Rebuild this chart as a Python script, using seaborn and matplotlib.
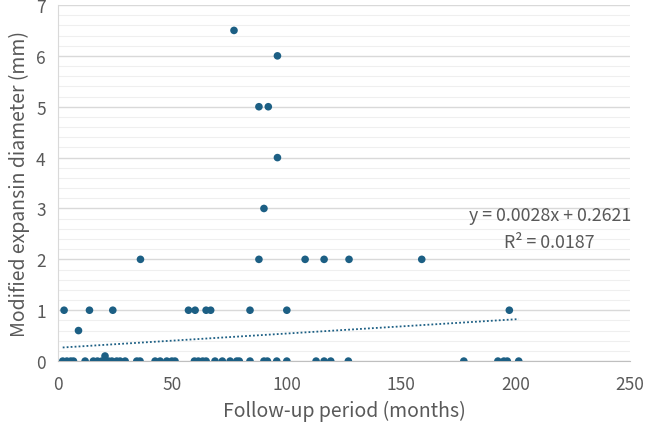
import numpy as np
import pandas as pd
import matplotlib
matplotlib.use("Agg")
import matplotlib.pyplot as plt
import seaborn as sns
from matplotlib.ticker import MultipleLocator

# follow-up period (months) and modified expansin diameter (mm)
x_zero = [2.0, 3.8, 5.5, 6.7, 11.8, 15.4, 17.2, 19.1, 22.0, 23.5, 25.6, 27.1, 29.3,
          34.4, 35.8, 42.4, 44.6, 47.5, 49.7, 51.1, 59.6, 61.3, 63.2, 64.7, 68.6,
          71.8, 75.2, 78.1, 79.2, 83.9, 90.0, 91.5, 95.6, 100.0, 112.8, 116.3,
          119.2, 126.9, 177.4, 192.3, 194.9, 196.4, 201.4]
x_small = [20.5, 8.9]
y_small = [0.1, 0.6]
x_one = [2.6, 13.7, 23.9, 57.0, 59.9, 64.7, 66.7, 83.9, 100.0, 197.3]
x_two = [36.0, 87.8, 108.0, 116.3, 127.2, 159.0]
x_high = [90.0, 95.9, 87.8, 91.9, 95.9, 76.9]
y_high = [3.0, 4.0, 5.0, 5.0, 6.0, 6.5]

slope, intercept, r2 = 0.0028, 0.2621, 0.0187

months = x_zero + x_small + x_one + x_two + x_high
diam = [0.0] * len(x_zero) + y_small + [1.0] * len(x_one) + [2.0] * len(x_two) + y_high
df = pd.DataFrame({"months": months, "diameter": diam})

sns.set_style("white")
plt.rcParams["font.family"] = ["Noto Sans CJK JP", "DejaVu Sans"]
text_col = "#595959"
dot_col = "#1c5f84"

fig = plt.figure(figsize=(6.46, 4.27), dpi=100)
ax = fig.add_axes([0.09, 0.152, 0.885, 0.834])

ax.yaxis.set_minor_locator(MultipleLocator(0.2))
ax.grid(True, which="minor", axis="y", color="#efefef", lw=0.8)
ax.grid(True, which="major", axis="y", color="#d9d9d9", lw=1.0)
ax.set_axisbelow(True)

sns.scatterplot(data=df, x="months", y="diameter", color=dot_col, s=30,
                edgecolor="none", ax=ax, zorder=3)

trend = pd.DataFrame({"months": [df["months"].min(), df["months"].max()]})
trend["fit"] = slope * trend["months"] + intercept
sns.lineplot(data=trend, x="months", y="fit", color=dot_col, lw=1.3,
             linestyle=(0, (1, 1.2)), ax=ax, zorder=2)

ax.set_xlim(0, 250)
ax.set_ylim(0, 7)
ax.set_xticks(np.arange(0, 251, 50))
ax.set_yticks(np.arange(0, 8, 1))
ax.tick_params(axis="y", which="major", length=4, color="#d9d9d9", labelsize=12.5,
               colors=text_col, pad=5)
ax.tick_params(axis="y", which="minor", length=0)
ax.tick_params(axis="x", length=4, color="#bfbfbf", labelsize=12.5, colors=text_col, pad=6)

for s in ["top", "right"]:
    ax.spines[s].set_visible(False)
ax.spines["left"].set_color("#d9d9d9")
ax.spines["bottom"].set_color("#bfbfbf")

ax.set_xlabel("Follow-up period (months)", fontsize=14, color=text_col, labelpad=5)
ax.set_ylabel("Modified expansin diameter (mm)", fontsize=14, color=text_col, labelpad=4)

ax.text(215, 2.87, f"y = {slope:.4f}x + {intercept:.4f}", ha="center", va="center",
        fontsize=12.8, color=text_col)
ax.text(215, 2.34, f"R² = {r2:.4f}", ha="center", va="center",
        fontsize=12.8, color=text_col)

fig.savefig("out.png", dpi=100)
